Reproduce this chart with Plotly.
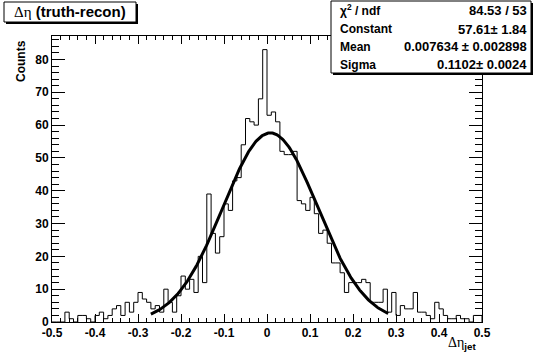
import numpy as np
import plotly.graph_objects as go

# ---------------- data ----------------
bin_low = -0.5
bin_high = 0.5
counts = [0, 0, 0, 3, 1, 0, 2, 2, 1, 0,
          2, 3, 1, 2, 4, 5, 2, 6, 3, 6,
          9, 7, 6, 4, 5, 3, 10, 6, 3, 8,
          14, 10, 13, 9, 20, 12, 39, 27, 21, 26,
          36, 34, 43, 44, 54, 62, 61, 60, 68, 83,
          63, 64, 61, 52, 51, 51, 52, 37, 36, 34,
          38, 33, 27, 28, 24, 18, 18, 15, 9, 12,
          12, 12, 13, 12, 6, 6, 6, 10, 3, 9,
          2, 5, 4, 4, 9, 3, 3, 2, 1, 6,
          4, 2, 1, 1, 2, 1, 1, 0, 2, 2]

fit_constant = 57.61
fit_mean = 0.007634
fit_sigma = 0.1102
fit_range = [-0.27, 0.282]

stat_names = ["χ<sup>2</sup> / ndf", "Constant", "Mean", "Sigma"]
stat_values = ["84.53 / 53", "57.61± 1.84", "0.007634 ± 0.002898", "0.1102± 0.0024"]

x_tickvals = [-0.5, -0.4, -0.3, -0.2, -0.1, 0.0, 0.1, 0.2, 0.3, 0.4, 0.5]
x_ticktext = ["-0.5", "-0.4", "-0.3", "-0.2", "-0.1", "0", "0.1", "0.2", "0.3", "0.4", "0.5"]
y_tickvals = [0, 10, 20, 30, 40, 50, 60, 70, 80]
y_ticktext = ["0", "10", "20", "30", "40", "50", "60", "70", "80"]

title_text = "<span style='font-family:Liberation Serif'>Δη</span> <b>(truth-recon)</b>"
xtitle_text = "<span style='font-family:Liberation Serif'>Δη</span><sub><b>jet</b></sub>"
ytitle_text = "<b>Counts</b>"

# ---------------- figure ----------------
W, H = 536, 358
L, R, T, B = 52, 54, 36, 36
pw, ph = W - L - R, H - T - B

def px(x):
    return (x - L) / pw

def py(y):
    return (H - B - y) / ph

nb = len(counts)
width = (bin_high - bin_low) / nb
edges = bin_low + width * np.arange(nb + 1)
hx = np.concatenate([[edges[0]], edges[:-1], [edges[-1]], [edges[-1]]])
hy = np.concatenate([[0], counts, [counts[-1]], [0]])

fx = np.linspace(fit_range[0], fit_range[1], 300)
fy = fit_constant * np.exp(-0.5 * ((fx - fit_mean) / fit_sigma) ** 2)

ymax = 1.05 * max(counts)

fig = go.Figure()
fig.add_trace(go.Scatter(x=hx, y=hy, mode="lines", line=dict(shape="hv", color="black", width=1),
                         hoverinfo="skip", showlegend=False))
fig.add_trace(go.Scatter(x=fx, y=fy, mode="lines", line=dict(color="black", width=3),
                         hoverinfo="skip", showlegend=False))

tickfont = dict(family="Liberation Sans, Arial", size=12, color="black", weight="bold")
fig.update_xaxes(range=[bin_low, bin_high], tickvals=x_tickvals, ticktext=x_ticktext,
                 ticks="inside", ticklen=8, tickcolor="black", tickwidth=1,
                 minor=dict(ticks="inside", ticklen=4, dtick=0.02, tick0=-0.5, tickcolor="black", showgrid=False),
                 showline=True, linecolor="black", linewidth=1, mirror="ticks",
                 showgrid=False, zeroline=False, tickfont=tickfont, automargin=False)
fig.update_yaxes(range=[0, ymax], tickvals=y_tickvals, ticktext=y_ticktext,
                 ticks="inside", ticklen=13, tickcolor="black", tickwidth=1,
                 minor=dict(ticks="inside", ticklen=7, dtick=2, tick0=0, tickcolor="black", showgrid=False),
                 showline=True, linecolor="black", linewidth=1, mirror="ticks",
                 showgrid=False, zeroline=False, tickfont=tickfont, automargin=False)

shapes = []
def box(x0, y0, x1, y1, sh=2):
    shapes.append(dict(type="rect", xref="paper", yref="paper", x0=px(x0 + sh), x1=px(x1 + sh),
                       y0=py(y0 + sh), y1=py(y1 + sh), fillcolor="black", line=dict(width=0), layer="above"))
    shapes.append(dict(type="rect", xref="paper", yref="paper", x0=px(x0), x1=px(x1),
                       y0=py(y0), y1=py(y1), fillcolor="white", line=dict(color="black", width=1), layer="above"))

box(4, 2, 136, 22)
box(331, 1, 531, 73)

ann = []
ann.append(dict(xref="paper", yref="paper", x=px(70), y=py(12), text=title_text, showarrow=False,
                xanchor="center", yanchor="middle",
                font=dict(family="Liberation Sans, Arial", size=15, color="black")))
row_y = [10, 29, 47, 65]
for name, val, ry in zip(stat_names, stat_values, row_y):
    ann.append(dict(xref="paper", yref="paper", x=px(338), y=py(ry), text=name, showarrow=False,
                    xanchor="left", yanchor="middle",
                    font=dict(family="Liberation Sans, Arial", size=12, color="black", weight="bold")))
    ann.append(dict(xref="paper", yref="paper", x=px(529), y=py(ry), text=val, showarrow=False,
                    xanchor="right", yanchor="middle",
                    font=dict(family="Liberation Sans, Arial", size=13, color="black", weight="bold")))
ann.append(dict(xref="paper", yref="paper", x=px(478), y=py(333), text=xtitle_text, showarrow=False,
                xanchor="right", yanchor="top",
                font=dict(family="Liberation Sans, Arial", size=14, color="black")))
ann.append(dict(xref="paper", yref="paper", x=px(21), y=py(38), text=ytitle_text, showarrow=False,
                xanchor="center", yanchor="top", textangle=-90,
                font=dict(family="Liberation Sans, Arial", size=12, color="black")))

fig.update_layout(width=W, height=H, margin=dict(l=L, r=R, t=T, b=B, autoexpand=False),
                  paper_bgcolor="white", plot_bgcolor="white",
                  shapes=shapes, annotations=ann, showlegend=False)

fig.write_html("out.html", config={"displayModeBar": False, "staticPlot": True},
               post_script="document.body.style.margin='0px';document.body.style.overflow='hidden';")
